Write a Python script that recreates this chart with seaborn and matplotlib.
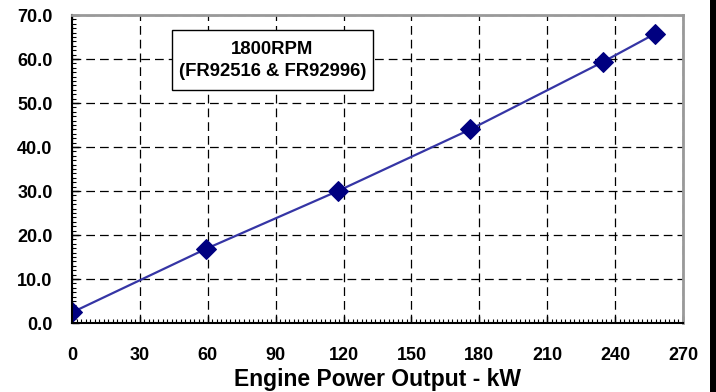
import matplotlib
matplotlib.use("Agg")
import matplotlib.pyplot as plt
import matplotlib.patches as mpatches
from matplotlib.ticker import MultipleLocator
import seaborn as sns
import pandas as pd

# data
power_kw = [0, 59, 117.5, 176, 234.5, 257.5]
fuel = [2.4, 16.8, 30.0, 44.0, 59.3, 65.7]
box_lines = ["1800RPM", "(FR92516 & FR92996)"]
x_label = "Engine Power Output - kW"
y_ticks = [0, 10, 20, 30, 40, 50, 60, 70]
x_ticks = [0, 30, 60, 90, 120, 150, 180, 210, 240, 270]

df = pd.DataFrame({"power": power_kw, "fuel": fuel})

sns.set_style("white")
plt.rcParams['font.family'] = ['Liberation Sans', 'DejaVu Sans']
plt.rcParams['font.weight'] = 'bold'
plt.rcParams['text.color'] = 'black'
plt.rcParams['axes.labelcolor'] = 'black'
plt.rcParams['xtick.color'] = 'black'
plt.rcParams['ytick.color'] = 'black'

fig = plt.figure(figsize=(7.16, 3.92), dpi=100)
ax = fig.add_axes([72 / 716, 1 - 323 / 392, (683 - 72) / 716, (323 - 15) / 392])

sns.lineplot(data=df, x="power", y="fuel", ax=ax, color="#3535a5", linewidth=1.6,
             marker="D", markersize=10, markerfacecolor="#000080", markeredgecolor="#000080")

ax.set_xlim(0, 270)
ax.set_ylim(0, 70)
ax.xaxis.set_minor_locator(MultipleLocator(2))
ax.yaxis.set_minor_locator(MultipleLocator(1))
ax.set_xticks(x_ticks)
ax.set_xticklabels([str(v) for v in x_ticks], fontsize=13, fontweight="bold")
ax.set_yticks(y_ticks)
ax.set_yticklabels([f"{v:.1f}" for v in y_ticks], fontsize=13, fontweight="bold")

ax.grid(True, which="major", color="black", linestyle=(0, (7, 4)), linewidth=0.9)
ax.set_axisbelow(True)

ax.tick_params(axis="both", which="major", direction="in", length=5, width=1, colors="black")
ax.tick_params(axis="both", which="minor", direction="in", length=3, width=0.8, colors="black")
ax.tick_params(axis="x", which="major", pad=17)
ax.tick_params(axis="y", which="major", pad=14)
ax.tick_params(left=True, bottom=True, which="both")

ax.spines["left"].set_color("black")
ax.spines["bottom"].set_color("black")
ax.spines["left"].set_linewidth(1.5)
ax.spines["bottom"].set_linewidth(1.5)
for s in ["top", "right"]:
    ax.spines[s].set_color("#999999")
    ax.spines[s].set_linewidth(2)

ax.set_xlabel(x_label, fontsize=16.5, fontweight="bold", labelpad=3, color="black")
ax.set_ylabel("")

# annotation box (frame drawn separately so it can be taller than the text)
ax.add_patch(mpatches.Rectangle((44.1, 52.9), 88.7, 13.7, facecolor="white",
                                edgecolor="black", linewidth=1, zorder=3))
ax.text(88.5, 59.6, "\n".join(box_lines), ha="center", va="center", fontsize=13.3,
        fontweight="bold", linespacing=1.4, color="black", zorder=4)

# black strip on the right edge
fig.patches.append(mpatches.Rectangle((710 / 716, 0), 6 / 716, 1, transform=fig.transFigure,
                                      facecolor="black", edgecolor="none"))

fig.savefig("out.png", dpi=100)
